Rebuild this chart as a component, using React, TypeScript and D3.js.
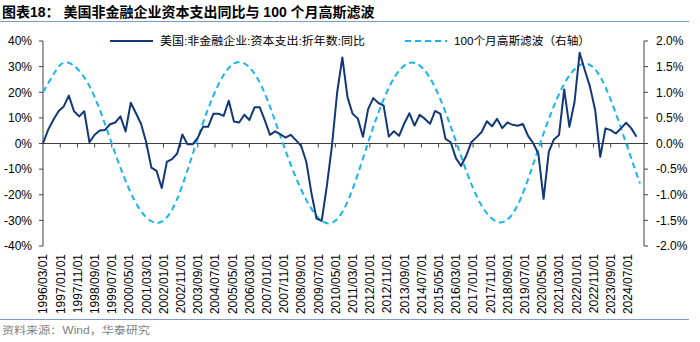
import React from 'react';
import * as d3 from 'd3';

// ---------- data ----------
const seriesStart = '1996-03-01'; // quarterly observations from here
const capexYoY = [
  0.0, 5.4, 9.3, 12.6, 14.4, 18.7, 12.6, 10.6, 12.6, 0.5,
  3.4, 5.1, 5.3, 7.5, 8.2, 10.6, 4.7, 15.9, 11.8, 7.6,
  0.5, -9.4, -10.7, -17.4, -7.2, -6.1, -3.9, 3.5, -0.3, -0.3,
  2.3, 6.5, 6.5, 11.6, 11.6, 10.8, 16.7, 8.6, 8.2, 11.2,
  9.2, 14.1, 14.1, 8.9, 3.4, 4.7, 3.6, 2.3, 3.4, 1.3,
  -0.9, -7.0, -19.1, -29.3, -30.2, -16.5, -0.9, 19.9, 33.6, 18.1,
  11.6, 9.8, 2.6, 13.4, 17.7, 15.8, 14.8, 2.7, 4.8, 3.0,
  7.8, 11.8, 7.0, 11.2, 9.6, 7.7, 12.7, 11.6, 1.8, 0.5,
  -5.6, -8.8, -4.8, 0.5, 2.4, 4.5, 8.7, 6.7, 9.6, 6.0,
  8.2, 7.3, 6.9, 7.6, 3.0, 0.1, -4.0, -21.6, -3.3, 1.6,
  3.3, 21.1, 6.5, 16.3, 35.4, 28.6, 22.1, 13.0, -5.2, 5.9,
  5.2, 3.9, 5.9, 8.1, 5.9, 2.6,
];

const filterDates = [
  '1996-03-01', '1996-10-01', '1997-05-16', '1998-06-01', '1999-07-01',
  '2000-08-01', '2001-09-01', '2002-08-16', '2003-08-01', '2004-08-16',
  '2005-09-01', '2006-10-01', '2007-10-16', '2008-12-01', '2010-01-01',
  '2010-12-16', '2011-11-25', '2012-12-16', '2014-01-16', '2015-02-16',
  '2016-03-16', '2017-04-01', '2018-05-01', '2019-04-16', '2020-04-01',
  '2021-05-01', '2022-06-01', '2023-06-01', '2024-06-01', '2025-02-01',
];
const filterValues = [
  1.0, 1.4, 1.58, 1.12, 0.0,
  -1.1, -1.55, -1.12, 0.0, 1.12,
  1.59, 1.12, 0.0, -1.1, -1.56,
  -1.1, 0.0, 1.12, 1.58, 1.12,
  0.0, -1.09, -1.54, -1.09, 0.0,
  1.1, 1.56, 1.1, 0.0, -0.78,
];

const leftTicks = [40, 30, 20, 10, 0, -10, -20, -30, -40];
const rightTicks = [2.0, 1.5, 1.0, 0.5, 0.0, -0.5, -1.0, -1.5, -2.0];

const titleText = '图表18： 美国非金融企业资本支出同比与 100 个月高斯滤波';
const legendMain = '美国:非金融企业:资本支出:折年数:同比';
const legendFilter = '100个月高斯滤波（右轴）';
const sourceText = '资料来源：Wind，华泰研究';

// ---------- layout ----------
const W = 700;
const H = 342;
const X0 = 43;
const X1 = 644;
const YT = 41;
const YB = 246;

const NUM_FONT = "'Liberation Sans', Arial, 'Noto Sans CJK SC', sans-serif";
const CJK_FONT = "'Liberation Sans', 'Noto Sans CJK SC', sans-serif";
const AXIS = '#404040';
const NAVY = '#123879';
const CYAN = '#18B4EE';
const RULE = '#7F9CC9';

export default function App() {
  const parse = d3.timeParse('%Y-%m-%d');
  const start = parse(seriesStart) as Date;
  const x = d3
    .scaleTime()
    .domain([start, new Date(2025, 3, 13)])
    .range([X0, X1]);
  const yL = d3.scaleLinear().domain([-40, 40]).range([YB, YT]);
  const yR = d3.scaleLinear().domain([-2, 2]).range([YB, YT]);

  const qDates = capexYoY.map((_, i) => d3.timeMonth.offset(start, 3 * i));
  const mainPts: [Date, number][] = capexYoY.map((v, i) => [qDates[i], v]);
  const filtPts: [Date, number][] = filterValues.map((v, i) => [parse(filterDates[i]) as Date, v]);

  const mainLine = d3
    .line<[Date, number]>()
    .x((d) => x(d[0]))
    .y((d) => yL(d[1]));
  const filtLine = d3
    .line<[Date, number]>()
    .x((d) => x(d[0]))
    .y((d) => yR(d[1]))
    .curve(d3.curveNatural);

  const xTicks = d3.timeMonth.range(start, new Date(2024, 7, 2), 10);
  const fmt = d3.timeFormat('%Y/%m/%d');
  const y0 = yL(0);

  return (
    <svg
      width={W}
      height={H}
      style={{ position: 'absolute', left: 0, top: 0, background: '#fff' }}
    >
      {/* title */}
      <text x={2} y={17} fontSize={14} fontWeight="bold" fontFamily={CJK_FONT} fill="#000">
        {titleText}
      </text>
      <line x1={0} x2={689} y1={21.5} y2={21.5} stroke={RULE} strokeWidth={1} />

      {/* left axis */}
      <line x1={X0} x2={X0} y1={YT} y2={YB} stroke={AXIS} strokeWidth={1} />
      {leftTicks.map((t) => (
        <g key={'l' + t}>
          <line x1={X0 - 4} x2={X0} y1={yL(t)} y2={yL(t)} stroke={AXIS} />
          <text
            x={32}
            y={yL(t)}
            dy="0.36em"
            textAnchor="end"
            fontSize={12}
            fontFamily={NUM_FONT}
            fill="#000"
          >
            {t + '%'}
          </text>
        </g>
      ))}

      {/* right axis */}
      <line x1={X1} x2={X1} y1={YT} y2={YB} stroke={AXIS} strokeWidth={1} />
      {rightTicks.map((t) => (
        <g key={'r' + t}>
          <line x1={X1} x2={X1 + 4} y1={yR(t)} y2={yR(t)} stroke={AXIS} />
          <text
            x={656}
            y={yR(t)}
            dy="0.36em"
            textAnchor="start"
            fontSize={12}
            fontFamily={NUM_FONT}
            fill="#000"
          >
            {t.toFixed(1) + '%'}
          </text>
        </g>
      ))}

      {/* zero line + x ticks */}
      <line x1={X0} x2={X1} y1={y0} y2={y0} stroke={AXIS} strokeWidth={1} />
      {xTicks.map((d, i) => (
        <g key={'x' + i}>
          {i > 0 && <line x1={x(d)} x2={x(d)} y1={y0} y2={y0 + 4} stroke={AXIS} />}
          <text
            transform={`translate(${x(d)},254) rotate(-90)`}
            dy="0.36em"
            textAnchor="end"
            fontSize={12}
            fontFamily={NUM_FONT}
            fill="#000"
          >
            {fmt(d)}
          </text>
        </g>
      ))}

      {/* series */}
      <path
        d={filtLine(filtPts) || ''}
        fill="none"
        stroke={CYAN}
        strokeWidth={2}
        strokeDasharray="6 4"
      />
      <path d={mainLine(mainPts) || ''} fill="none" stroke={NAVY} strokeWidth={2} strokeLinejoin="round" />

      {/* legend */}
      <line x1={110} x2={153} y1={41} y2={41} stroke={NAVY} strokeWidth={2} />
      <text
        x={160}
        y={45}
        fontSize={11.5}
        fontFamily={CJK_FONT}
        fill="#000"
        textLength={205}
        lengthAdjust="spacingAndGlyphs"
      >
        {legendMain}
      </text>
      <line x1={405} x2={447} y1={41} y2={41} stroke={CYAN} strokeWidth={2} strokeDasharray="6 4" />
      <text
        x={454}
        y={45}
        fontSize={11.5}
        fontFamily={CJK_FONT}
        fill="#000"
        textLength={136}
        lengthAdjust="spacingAndGlyphs"
      >
        {legendFilter}
      </text>

      {/* footer */}
      <line x1={0} x2={689} y1={319.5} y2={319.5} stroke={RULE} strokeWidth={1} />
      <text
        x={2}
        y={334}
        fontSize={10.5}
        fontFamily={CJK_FONT}
        fill="#7F7F7F"
        textLength={148}
        lengthAdjust="spacingAndGlyphs"
      >
        {sourceText}
      </text>
    </svg>
  );
}
